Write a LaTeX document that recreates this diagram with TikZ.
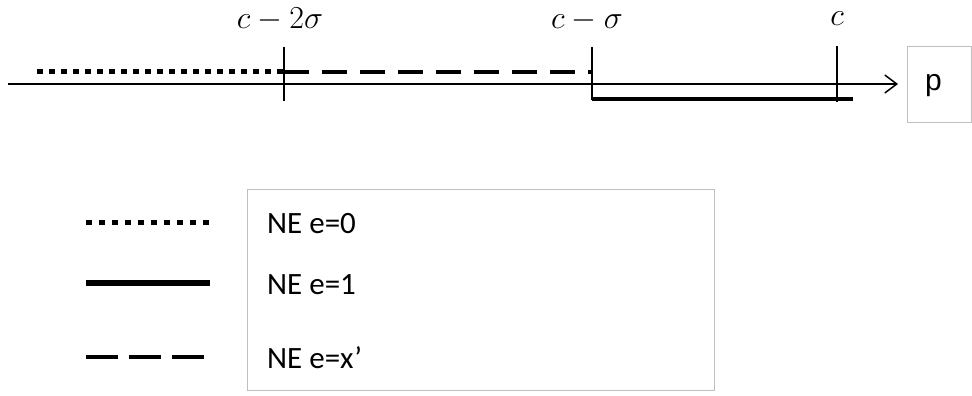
\RequirePackage{fix-cm}
\documentclass[tikz,border=0pt]{standalone}
\usepackage{fontspec}
\setmainfont{Carlito}
\newfontfamily\arialfont{Liberation Sans}
\usetikzlibrary{arrows.meta}
\begin{document}
\begin{tikzpicture}[x=1pt,y=-1pt,
  axisline/.style={line width=1.5pt,black},
  tickline/.style={line width=1.5pt,black},
  dotline/.style={line width=5pt,dash pattern=on 6pt off 6pt},
  dashline/.style={line width=3.5pt,dash pattern=on 25pt off 13pt},
  thickline/.style={line width=4.5pt},
  graybox/.style={draw=black!25,line width=1pt},
  lab/.style={font=\fontsize{32}{35}\selectfont,anchor=base,inner sep=0pt},
  legtext/.style={font=\fontsize{31}{34}\selectfont,anchor=base west,inner sep=0pt}]
\useasboundingbox (0,0) rectangle (972,396);
% axis
\coordinate (a0) at (8,84);
\coordinate (a1) at (898,84);
\draw[axisline,-{Straight Barb[length=12pt,width=18pt,line width=1.5pt]}] (a0) -- (a1);
% ticks
\coordinate (t1a) at (284,47); \coordinate (t1b) at (284,101);
\coordinate (t2a) at (592,47); \coordinate (t2b) at (592,100);
\coordinate (t3a) at (837,46); \coordinate (t3b) at (837,102);
\draw[tickline] (t1a) -- (t1b);
\draw[tickline] (t2a) -- (t2b);
\draw[tickline] (t3a) -- (t3b);
% labels
\node[lab] (l1) at (280,29) {$c-2\sigma$};
\node[lab] (l2) at (587,29) {$c-\sigma$};
\node[lab] (l3) at (837,26) {$c$};
% segments
\coordinate (d0) at (37,72); \coordinate (d1) at (284,72);
\coordinate (e1) at (592,72);
\coordinate (s0) at (592,99); \coordinate (s1) at (853,99);
\draw[dotline] (d0) -- (d1);
\draw[dashline] (d1) -- (e1);
\draw[thickline] (s0) -- (s1);
% p box
\coordinate (pb0) at (907,47); \coordinate (pb1) at (971,122);
\draw[graybox] (pb0) rectangle (pb1);
\node[font=\arialfont\fontsize{30}{32}\selectfont,anchor=base west,inner sep=0pt] (p) at (925,90) {p};
% legend
\coordinate (lb0) at (247,189); \coordinate (lb1) at (714,390);
\draw[graybox] (lb0) rectangle (lb1);
\coordinate (g1a) at (86,222); \coordinate (g1b) at (210,222);
\coordinate (g2a) at (86,283); \coordinate (g2b) at (210,283);
\coordinate (g3a) at (86,357); \coordinate (g3b) at (210,357);
\draw[line width=5pt,dash pattern=on 6pt off 7pt] (g1a) -- (g1b);
\draw[line width=6pt] (g2a) -- (g2b);
\draw[line width=4pt,dash pattern=on 32pt off 11pt] (g3a) -- (g3b);
\node[legtext] (n1) at (267,233) {NE e=0};
\node[legtext] (n2) at (267,294) {NE e=1};
\node[legtext] (n3) at (267,368) {NE e=x’};
\end{tikzpicture}
\end{document}
